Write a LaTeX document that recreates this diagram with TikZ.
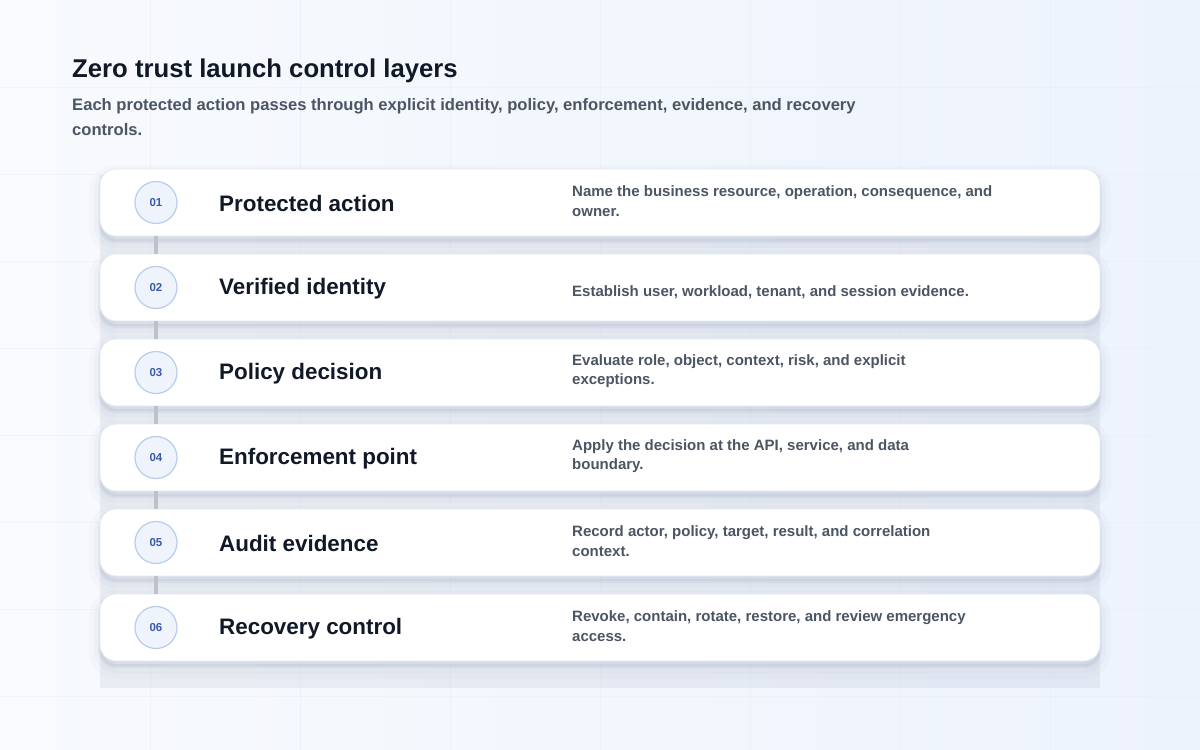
\documentclass[tikz,border=0pt]{standalone}
\usepackage{fontspec}
\setmainfont{Liberation Sans}
\definecolor{bgA}{HTML}{F8FAFD}
\definecolor{bgB}{HTML}{EDF3FD}
\definecolor{gridc}{HTML}{E9EDF4}
\definecolor{ink}{HTML}{111827}
\definecolor{muted}{HTML}{4B5563}
\definecolor{cardline}{HTML}{E4E8EF}
\definecolor{badgefill}{HTML}{EEF3FC}
\definecolor{badgeline}{HTML}{B9CCEB}
\definecolor{badgetext}{HTML}{3A5BA8}
\definecolor{linkgray}{HTML}{BDC1CA}
\definecolor{shadowc}{HTML}{9AA3BC}
\tikzstyle{lift}=[preaction={draw=shadowc,line width=22pt,opacity=.04,transform canvas={yshift=-7pt}},preaction={draw=shadowc,line width=12pt,opacity=.06,transform canvas={yshift=-6pt}},preaction={fill=shadowc,draw=shadowc,line width=4pt,opacity=.14,transform canvas={yshift=-5pt}}]
\tikzstyle{card}=[lift,draw=cardline,fill=white,line width=.8pt,rounded corners=16pt,minimum width=1000pt,minimum height=67pt,inner sep=0pt]
\tikzstyle{badge}=[circle,draw=badgeline,fill=badgefill,line width=1.2pt,minimum size=42pt,inner sep=0pt,font=\fontsize{11.5}{13}\selectfont\bfseries,text=badgetext]
\tikzstyle{layer}=[anchor=west,inner sep=0pt,font=\fontsize{22.4}{26}\selectfont\bfseries,text=ink]
\tikzstyle{note}=[anchor=west,inner sep=0pt,align=left,font=\fontsize{15}{19.5}\selectfont\bfseries,text=muted]
\tikzstyle{link}=[draw=linkgray,line width=3.5pt]

\begin{document}
\begin{tikzpicture}[x=1pt,y=-1pt]
\useasboundingbox (0,0) rectangle (1200,750);
\shade[left color=bgA,right color=bgB] (0,0) rectangle (1200,750);
\foreach \gx in {150,300,...,1050} \draw[gridc,line width=.5pt,opacity=.55] (\gx,0) -- (\gx,750);
\foreach \gy in {87,174,...,700} \draw[gridc,line width=.5pt,opacity=.45] (0,\gy) -- (1200,\gy);
\fill[shadowc,opacity=.11] (100,175) rectangle (1100,688);
\draw[shadowc,opacity=.03,line width=16pt] (108,175) -- (108,680) -- (1092,680) -- (1092,175);

\node[anchor=base west,inner sep=0pt,font=\fontsize{25.7}{30}\selectfont\bfseries,text=ink] (head) at (72,77) {Zero trust launch control layers};
\node[anchor=north west,inner sep=0pt,align=left,font=\fontsize{16.6}{25}\selectfont\bfseries,text=muted] (sub) at (72,98) {Each protected action passes through explicit identity, policy, enforcement, evidence, and recovery\\controls.};

\node[card] (c1) at (600,202.5) {};
\node[card] (c2) at (600,287.5) {};
\node[card] (c3) at (600,372.5) {};
\node[card] (c4) at (600,457.5) {};
\node[card] (c5) at (600,542.5) {};
\node[card] (c6) at (600,627.5) {};

\node[badge] (b1) at (156,202.5) {01};
\node[badge] (b2) at (156,287.5) {02};
\node[badge] (b3) at (156,372.5) {03};
\node[badge] (b4) at (156,457.5) {04};
\node[badge] (b5) at (156,542.5) {05};
\node[badge] (b6) at (156,627.5) {06};

\draw[link] (c1.south -| b1) -- (c2.north -| b2);
\draw[link] (c2.south -| b2) -- (c3.north -| b3);
\draw[link] (c3.south -| b3) -- (c4.north -| b4);
\draw[link] (c4.south -| b4) -- (c5.north -| b5);
\draw[link] (c5.south -| b5) -- (c6.north -| b6);

\node[layer] (t1) at (219,203.5) {Protected action};
\node[layer] (t2) at (219,288.5) {Verified identity};
\node[layer] (t3) at (219,373.5) {Policy decision};
\node[layer] (t4) at (219,458.5) {Enforcement point};
\node[layer] (t5) at (219,543.5) {Audit evidence};
\node[layer] (t6) at (219,628.5) {Recovery control};

\node[note] (d1) at (572,201) {Name the business resource, operation, consequence, and\\owner.};
\node[note] (d2) at (572,292) {Establish user, workload, tenant, and session evidence.};
\node[note] (d3) at (572,371) {Evaluate role, object, context, risk, and explicit\\exceptions.};
\node[note] (d4) at (572,456) {Apply the decision at the API, service, and data\\boundary.};
\node[note] (d5) at (572,541) {Record actor, policy, target, result, and correlation\\context.};
\node[note] (d6) at (572,626) {Revoke, contain, rotate, restore, and review emergency\\access.};
\end{tikzpicture}
\end{document}
